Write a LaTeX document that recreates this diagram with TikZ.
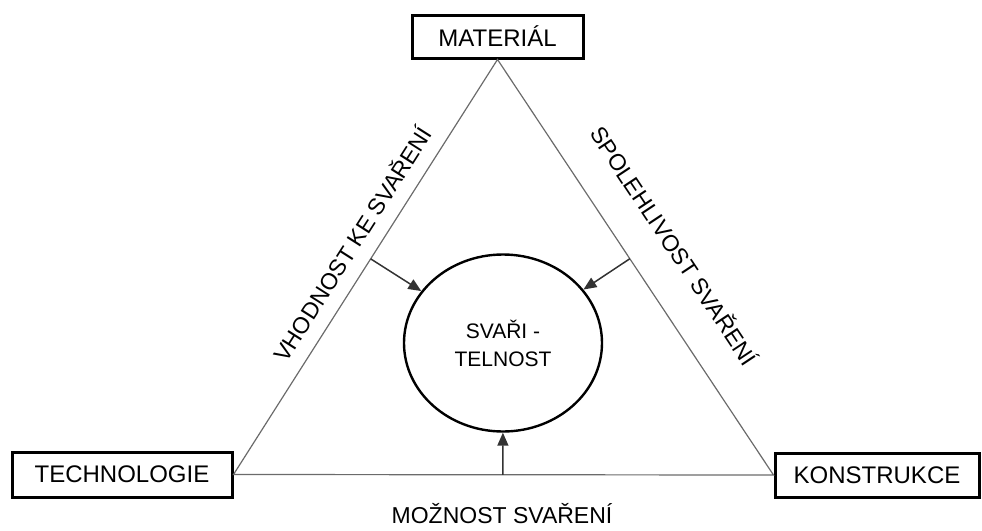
\documentclass[tikz,border=0pt]{standalone}
\usepackage{fontspec}
\setmainfont{Liberation Sans}
\usetikzlibrary{shapes.geometric,arrows.meta,calc}
\tikzset{
  corner/.style={draw,line width=1.5pt,inner sep=0pt,font=\fontsize{12}{14}\selectfont},
  side/.style={draw=black!58,line width=0.6pt},
  push/.style={draw=black!80,line width=0.75pt,-{Triangle[length=6.5pt,width=5.5pt]}},
  sidelabel/.style={inner sep=0pt,font=\fontsize{11.5}{13}\selectfont}
}
\begin{document}
\begin{tikzpicture}[x=0.5pt,y=-0.5pt]
\useasboundingbox (0,0) rectangle (982,531);
% the three corners
\node[corner,minimum width=85.5pt,minimum height=21.5pt] (mat) at (497.5,36.5) {MATERIÁL};
\node[corner,minimum width=110pt,minimum height=22.5pt] (tech) at (122,474.5) {TECHNOLOGIE};
\node[corner,minimum width=102pt,minimum height=22pt] (kons) at (877,475) {KONSTRUKCE};
\draw[side] (tech.east) -- (mat.south) -- (kons.west) -- cycle;
% weldability in the middle
\node[draw,ellipse,line width=1.2pt,minimum width=99pt,minimum height=88.5pt,align=center,font=\fontsize{10.5}{14}\selectfont] (svar) at (503,343) {SVAŘI -\\TELNOST};
\coordinate (fl) at ($(tech.east)!(svar.center)!(mat.south)$);
\coordinate (fr) at ($(mat.south)!(svar.center)!(kons.west)$);
\coordinate (fb) at ($(tech.east)!(svar.center)!(kons.west)$);
\draw[push] (fl) -- (svar);
\draw[push] (fr) -- (svar);
\draw[push] (fb) -- (svar);
% side labels
\node[sidelabel,rotate=57.5] (vhod) at (351.5,243.5) {VHODNOST KE SVAŘENÍ};
\node[sidelabel,rotate=-56.4] (spol) at (675,245) {SPOLEHLIVOST SVAŘENÍ};
\node[sidelabel] (mozn) at (502,514) {MOŽNOST SVAŘENÍ};
\end{tikzpicture}
\end{document}
